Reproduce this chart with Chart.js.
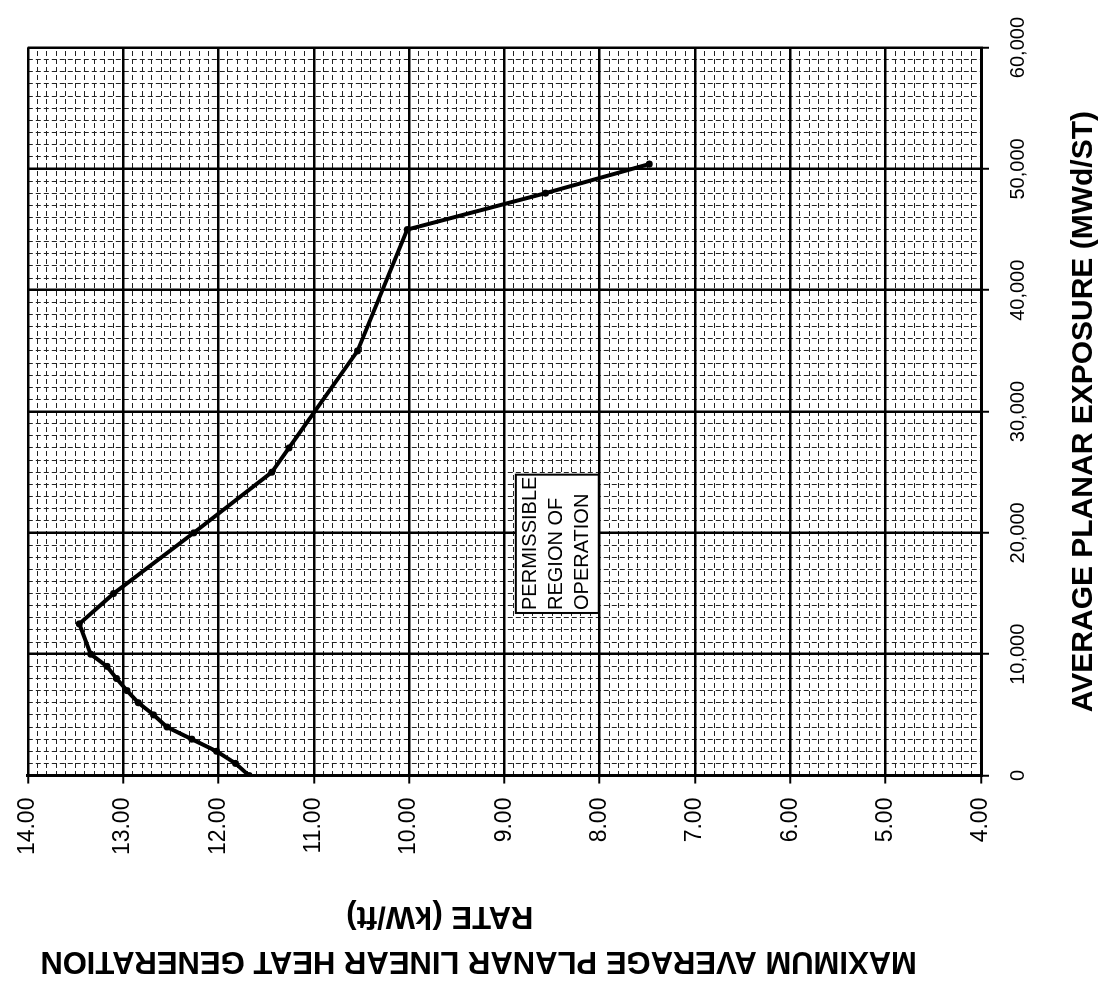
<!DOCTYPE html>
<html>
<head>
<meta charset="utf-8">
<script src="https://cdn.jsdelivr.net/npm/chart.js@4.4.1/dist/chart.umd.min.js"></script>
<style>
  html, body { margin: 0; padding: 0; background: #fff; overflow: hidden; }
  #wrap {
    position: absolute; left: 0; top: 0;
    width: 985px; height: 1107px;
    transform-origin: 0 0;
    transform: translate(0, 985px) rotate(-90deg);
  }
</style>
</head>
<body>
<div id="wrap"><canvas id="chart" width="985" height="1107"></canvas></div>
<script>
// exposure (MWd/ST) vs MAPLHGR (kW/ft) -- the page is drawn upright and turned a quarter left
const exposure = [0, 1000, 2000, 3000, 4000, 5000, 6000, 7000, 8000, 9000, 10000, 12500, 15000, 20000, 25000, 27000, 35000, 45000, 48000, 50400];
const rate     = [11.68, 11.82, 12.02, 12.28, 12.54, 12.68, 12.84, 12.96, 13.07, 13.17, 13.34, 13.46, 13.10, 12.26, 11.44, 11.26, 10.54, 10.02, 8.57, 7.48];

const exposureTicks = [0, 10000, 20000, 30000, 40000, 50000, 60000];
const rateTicks     = [4, 5, 6, 7, 8, 9, 10, 11, 12, 13, 14];

const regionText = ['PERMISSIBLE', 'REGION OF', 'OPERATION'];
const regionExposure = [13400, 24800];
const regionRate     = [8.88, 8.01];

const FONT = '"Liberation Sans", Arial, Helvetica, sans-serif';

const regionBox = {
    id: 'regionBox',
    beforeDatasetsDraw(chart) {
        const { ctx, scales: { x, y } } = chart;
        const l = x.getPixelForValue(regionExposure[0]);
        const r = x.getPixelForValue(regionExposure[1]);
        const t = y.getPixelForValue(regionRate[0]);
        const b = y.getPixelForValue(regionRate[1]);
        ctx.save();
        ctx.fillStyle = '#fff';
        ctx.fillRect(l, t, r - l, b - t);
        ctx.strokeStyle = '#000';
        ctx.lineWidth = 2;
        ctx.strokeRect(l, t, r - l, b - t);
        ctx.fillStyle = '#000';
        ctx.font = '20px ' + FONT;
        ctx.textBaseline = 'middle';
        regionText.forEach((s, i) => ctx.fillText(s, l + 3, t + 15 + i * 26));
        ctx.restore();
    },
};

new Chart(document.getElementById('chart'), {
    type: 'scatter',
    data: {
        datasets: [{
            data: exposure.map((e, i) => ({ x: e, y: rate[i] })),
            showLine: true,
            borderColor: '#000',
            backgroundColor: '#000',
            borderWidth: 4,
            pointRadius: 3.5,
            pointBackgroundColor: '#000',
            pointBorderWidth: 0,
        }],
    },
    options: {
        responsive: false,
        animation: false,
        layout: { padding: { top: 23, right: 43, left: 0, bottom: 0 } },
        plugins: { legend: { display: false }, tooltip: { enabled: false } },
        scales: {
            xMinor: {
                type: 'linear', position: 'bottom', min: 0, max: 60000,
                ticks: { display: false, stepSize: 1000 },
                grid: { color: '#222', lineWidth: 1, drawTicks: false },
                border: { display: false, dash: [5, 3] },
            },
            yMinor: {
                type: 'linear', position: 'left', min: 4, max: 14,
                ticks: { display: false, stepSize: 0.1 },
                grid: { color: '#222', lineWidth: 1, drawTicks: false },
                border: { display: false, dash: [5, 3] },
            },
            x: {
                type: 'linear', min: 0, max: 60000,
                afterBuildTicks: (s) => { s.ticks = exposureTicks.map(v => ({ value: v })); },
                ticks: {
                    color: '#000', padding: 17, maxRotation: 0,
                    font: { family: FONT, size: 20 },
                    callback: (v) => v.toLocaleString('en-US'),
                },
                grid: { color: '#000', lineWidth: 2.5, tickLength: 8, tickColor: '#000', tickWidth: 2 },
                border: { color: '#000', width: 3 },
                title: {
                    display: true, text: 'AVERAGE PLANAR EXPOSURE (MWd/ST)', color: '#000',
                    font: { family: FONT, size: 30, weight: 'bold', lineHeight: 1.2 },
                    padding: { top: 19, bottom: 5 },
                },
            },
            y: {
                type: 'linear', min: 4, max: 14,
                afterBuildTicks: (s) => { s.ticks = rateTicks.map(v => ({ value: v })); },
                ticks: {
                    color: '#000', padding: 14,
                    font: { family: FONT, size: 23 },
                    callback: (v) => Number(v).toFixed(2),
                },
                grid: { color: '#000', lineWidth: 2.5, tickLength: 8, tickColor: '#000', tickWidth: 2 },
                border: { color: '#000', width: 3 },
                title: {
                    display: true,
                    // leading spaces push the text toward the top, as in the original
                    text: ['      MAXIMUM AVERAGE PLANAR LINEAR HEAT GENERATION',
                           '               RATE (kW/ft)'],
                    color: '#000',
                    font: { family: FONT, size: 31, weight: 'bold', lineHeight: 1.45 },
                    padding: { top: 2, bottom: 24 },
                },
            },
        },
    },
    plugins: [regionBox],
});
</script>
</body>
</html>
